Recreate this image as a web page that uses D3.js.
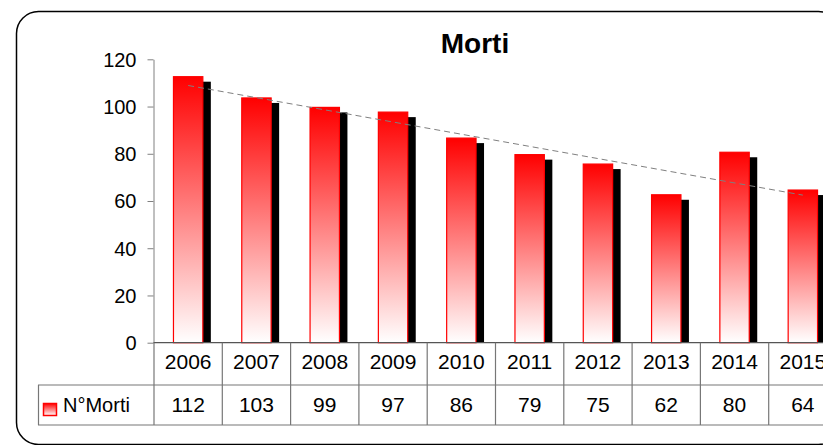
<!DOCTYPE html>
<html><head><meta charset="utf-8">
<script src="https://cdn.jsdelivr.net/npm/d3@7"></script>
<style>
html,body{margin:0;padding:0;background:#fff;}
svg{display:block;font-family:"Liberation Sans",Arial,sans-serif;}
</style>
</head><body>
<svg id="chart" width="823" height="445"></svg>
<script>
const chartTitle = "Morti";
const years = ["2006","2007","2008","2009","2010","2011","2012","2013","2014","2015"];
const morti = [112,103,99,97,86,79,75,62,80,64];
const yTicks = [0,20,40,60,80,100,120];
const seriesName = "N°Morti";

const svg = d3.select("#chart");
const W = 823, H = 445;

// frame
svg.append("rect").attr("x",16.5).attr("y",11.5).attr("width",824).attr("height",433)
  .attr("rx",22).attr("ry",22).attr("fill","#fff").attr("stroke","#000").attr("stroke-width",1.5);

const defs = svg.append("defs");
const grad = defs.append("linearGradient").attr("id","redGrad")
  .attr("x1",0).attr("y1",0).attr("x2",0).attr("y2",1);
grad.append("stop").attr("offset","0%").attr("stop-color","#ff0000");
grad.append("stop").attr("offset","100%").attr("stop-color","#ffffff");

const x = d3.scaleBand().domain(years).range([154, 837]).padding(0);
const y = d3.scaleLinear().domain([0,120]).range([342.7, 59.3]);

const barW = x.bandwidth()*0.43;
const dx = 8, dy = 5;

// shadow bars
svg.append("g").selectAll("rect").data(years).join("rect")
  .attr("x", (d)=> x(d) + x.bandwidth()/2 - barW/2 + dx)
  .attr("y", (d,i)=> y(morti[i]) - 1.5 + dy)
  .attr("width", barW)
  .attr("height", (d,i)=> y(0) - (y(morti[i]) - 1.5 + dy))
  .attr("fill","#000");

// front bars
svg.append("g").selectAll("rect").data(years).join("rect")
  .attr("x", (d)=> x(d) + x.bandwidth()/2 - barW/2)
  .attr("y", (d,i)=> y(morti[i]) - 1.5)
  .attr("width", barW)
  .attr("height", (d,i)=> y(0) - y(morti[i]) + 1.5)
  .attr("fill","url(#redGrad)")
  .attr("stroke","#ff0000").attr("stroke-width",1.2);

// trendline (least squares)
const n = morti.length;
const mx = d3.mean(d3.range(n)), my = d3.mean(morti);
const slope = d3.sum(d3.range(n), i => (i-mx)*(morti[i]-my)) / d3.sum(d3.range(n), i => (i-mx)*(i-mx));
const icpt = my - slope*mx;
const line = d3.line().x(d=>x(years[d])+x.bandwidth()/2).y(d=>y(icpt+slope*d));
svg.append("path").datum([0,n-1]).attr("d",line)
  .attr("fill","none").attr("stroke","#808080").attr("stroke-width",1).attr("stroke-dasharray","6,4");

// y axis
const yAxis = d3.axisLeft(y).tickValues(yTicks).tickSize(6).tickPadding(11).tickSizeOuter(0);
const gy = svg.append("g").attr("transform","translate(153.5,0)").call(yAxis);
gy.select(".domain").attr("stroke","#808080");
gy.selectAll(".tick line").attr("stroke","#808080");
gy.selectAll(".tick text").attr("font-size",20).attr("fill","#000")
  .attr("font-family","Liberation Sans, Arial, sans-serif").attr("dy","0.34em");

// x axis line
svg.append("line").attr("x1",153.5).attr("x2",W).attr("y1",y(0)).attr("y2",y(0))
  .attr("stroke","#555").attr("stroke-width",1.2);

// data table
const rowTop = y(0), rowMid = 385, rowBot = 425;
const tbl = svg.append("g").attr("stroke","#777").attr("stroke-width",1.2);
tbl.append("line").attr("x1",38).attr("x2",W).attr("y1",rowMid).attr("y2",rowMid);
tbl.append("line").attr("x1",38).attr("x2",W).attr("y1",rowBot).attr("y2",rowBot);
tbl.append("line").attr("x1",38.5).attr("x2",38.5).attr("y1",rowMid).attr("y2",rowBot);
tbl.selectAll("line.v").data(years.concat(["end"])).join("line").attr("class","v")
  .attr("x1",(d,i)=> 154 + i*x.step()).attr("x2",(d,i)=> 154 + i*x.step())
  .attr("y1",rowTop).attr("y2",rowBot);

svg.append("g").selectAll("text").data(years).join("text")
  .attr("x", d=> x(d)+x.bandwidth()/2).attr("y",369)
  .attr("text-anchor","middle").attr("font-size",21).attr("fill","#000").text(d=>d);

svg.append("g").selectAll("text").data(morti).join("text")
  .attr("x", (d,i)=> x(years[i])+x.bandwidth()/2).attr("y",412)
  .attr("text-anchor","middle").attr("font-size",21).attr("fill","#000").text(d=>d);

// legend key
svg.append("rect").attr("x",43.5).attr("y",403.5).attr("width",13).attr("height",12)
  .attr("fill","url(#redGrad)").attr("stroke","#ff0000").attr("stroke-width",1.5);
svg.append("text").attr("x",63).attr("y",412).attr("font-size",20).attr("fill","#000").text(seriesName);

// title
svg.append("text").attr("x",475).attr("y",53).attr("text-anchor","middle")
  .attr("font-size",28).attr("font-weight","bold").attr("fill","#000").text(chartTitle);
</script>
</body></html>
